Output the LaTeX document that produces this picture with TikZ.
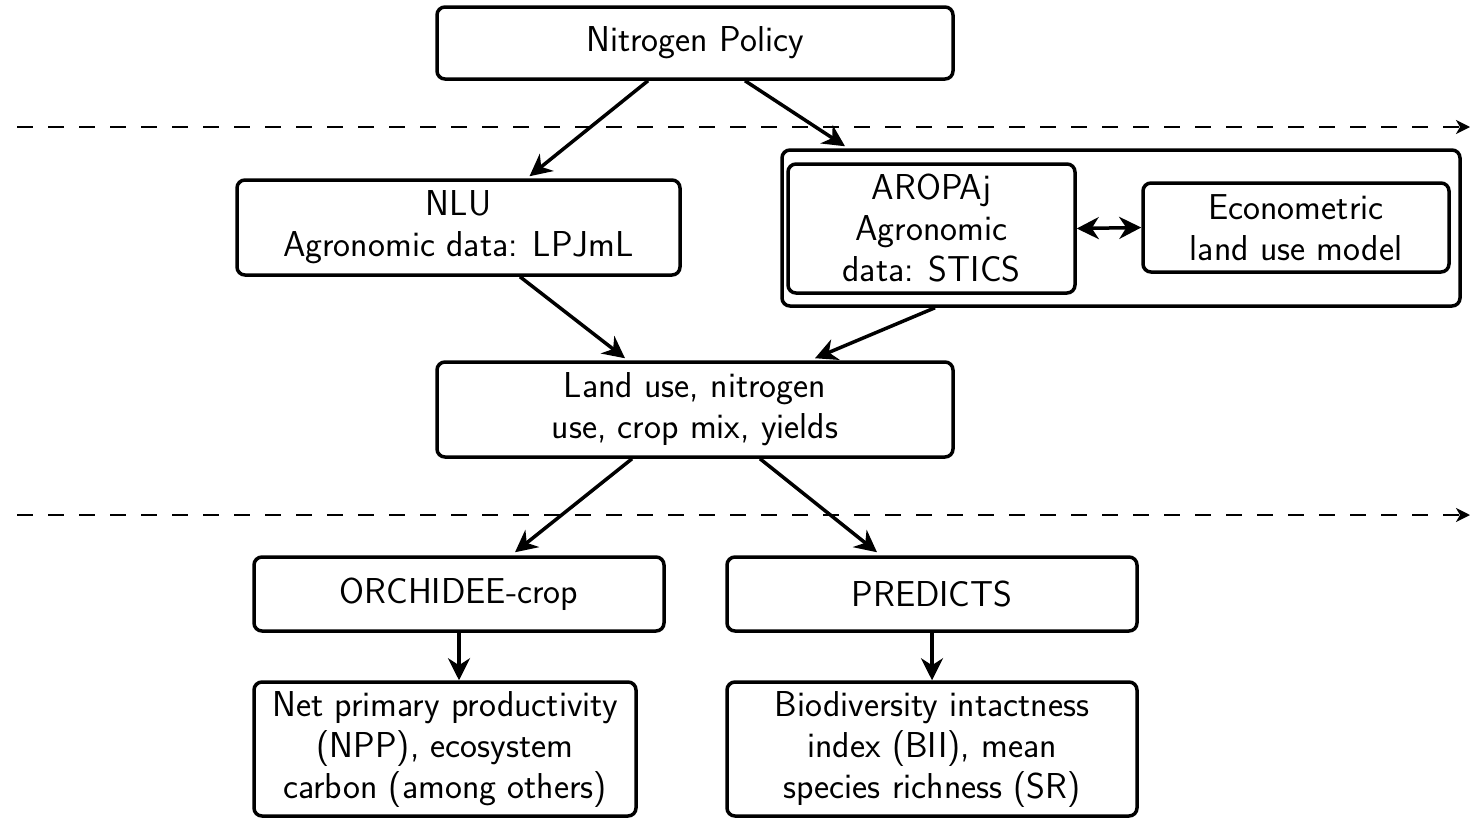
\documentclass[tikz,border=0pt]{standalone}
\usepackage{fontspec}
\usetikzlibrary{arrows.meta,calc}
\begin{document}
\begin{tikzpicture}[x=1pt,y=-1pt,
  box/.style={draw,line width=3.5pt,rounded corners=8pt,align=center,inner sep=0pt,
    font=\sffamily\fontsize{36}{41}\selectfont},
  arr/.style={line width=3.5pt,-{Stealth[length=22pt,width=22pt,inset=7pt]}},
  darr/.style={line width=3.5pt,{Stealth[length=22pt,width=22pt,inset=7pt]}-{Stealth[length=22pt,width=22pt,inset=7pt]}},
  dline/.style={line width=2.2pt,dash pattern=on 16pt off 15pt,-{Stealth[length=14pt,width=14pt,inset=4pt]}}]
\useasboundingbox (0,0) rectangle (1470,819);
\node[box,minimum width=516pt,minimum height=72pt] (np) at (695,43) {Nitrogen Policy};
\node[box,minimum width=443pt,minimum height=95pt] (nlu) at (458.5,227.5) {NLU\\Agronomic data: LPJmL};
\node[box,minimum width=678pt,minimum height=156pt] (outer) at (1121,228) {};
\node[box,minimum width=287pt,minimum height=129pt] (arop) at (931.5,228.5) {AROPAj\\Agronomic\\data: STICS};
\node[box,minimum width=306pt,minimum height=89pt] (econ) at (1296,227.5) {Econometric\\land use model};
\node[box,minimum width=516pt,minimum height=95pt] (land) at (695,409.5) {Land use, nitrogen\\use, crop mix, yields};
\node[box,minimum width=410pt,minimum height=74pt] (orch) at (459,594) {ORCHIDEE-crop};
\node[box,minimum width=410pt,minimum height=74pt] (pred) at (932,594) {PREDICTS};
\node[box,minimum width=382pt,minimum height=134pt] (npp) at (445,749) {Net primary productivity\\(NPP), ecosystem\\carbon (among others)};
\node[box,minimum width=410pt,minimum height=134pt] (bii) at (932,749) {Biodiversity intactness\\index (BII), mean\\species richness (SR)};
\coordinate (d1s) at (17,127);
\coordinate (d1e) at (1470,127);
\coordinate (d2s) at (17,515);
\coordinate (d2e) at (1470,515);
\draw[dline] (d1s) -- (d1e);
\draw[dline] (d2s) -- (d2e);
\draw[arr] ($(np.south)+(-47,0)$) -- ($(nlu.north)+(71,-2)$);
\draw[arr] ($(np.south)+(50,0)$) -- ($(outer.north)+(-276,-2)$);
\draw[arr] ($(nlu.south)+(61.5,0)$) -- ($(land.north)+(-70,-2)$);
\draw[arr] ($(outer.south)+(-186,0)$) -- ($(land.north)+(120,-2)$);
\draw[arr] ($(land.south)+(-63,0)$) -- ($(orch.north)+(56,-3)$);
\draw[arr] ($(land.south)+(65,0)$) -- ($(pred.north)+(-55,-3)$);
\draw[arr] (orch.south) -- (orch.south |- npp.north);
\draw[arr] (pred.south) -- (pred.south |- bii.north);
\draw[darr] (arop.east) -- (econ.west);
\end{tikzpicture}
\end{document}
